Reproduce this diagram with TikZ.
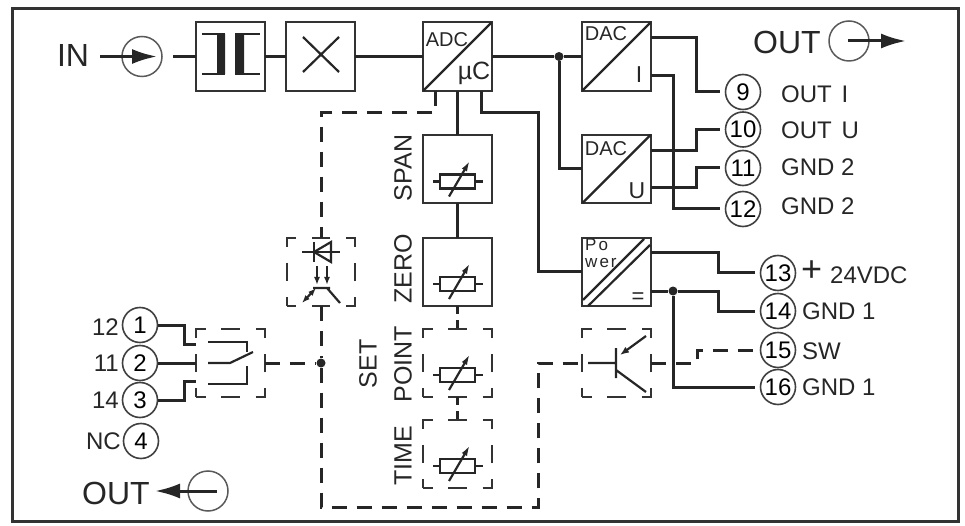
\documentclass[tikz,border=0pt]{standalone}
\usepackage{tikz}
\usepackage{fontspec}
\setmainfont{Liberation Sans}
\newfontfamily\widefont[LetterSpace=12]{Liberation Sans}
\usetikzlibrary{arrows.meta}
\usetikzlibrary{calc}

\newcommand{\fsize}[1]{\fontsize{#1}{#1}\selectfont}
\newcommand{\varres}[2]{
        \draw [symbol_style, shift={(#1,#2)}] (-25,0) -- (-18,0) (-18,-7) rectangle (17,7) (17,0) -- (25,0);
        \draw [symbol_style, shift={(#1,#2)}, -{Latex[length=11pt,width=6pt]}] (-9,15) -- (12,-21);
}

\begin{document}
\begin{tikzpicture}[x=1pt, y=-1pt, auto,
        box_style/.style={rectangle,draw=black!80,line width=2.2pt,minimum width=68.5pt,minimum height=68.5pt,inner sep=0pt,outer sep=0pt},
        dash_box_style/.style={box_style,dash pattern=on 18.5pt off 15.75pt,dash phase=9.25pt},
        pin_style/.style={circle,draw=black!75,line width=1.6pt,minimum size=35pt,inner sep=0pt,font=\fsize{24}},
        dot_style/.style={circle,fill=black!85,minimum size=9pt,inner sep=0pt},
        ring_style/.style={circle,draw=black!65,line width=1.5pt,minimum size=40pt,inner sep=0pt},
        text_style/.style={inner sep=0pt,anchor=west,text=black!85,font=\fsize{24}},
        big_text_style/.style={inner sep=0pt,text=black!85,font=\fsize{32}},
        side_text_style/.style={inner sep=0pt,rotate=90,text=black!85,font=\fsize{25}},
        box_text_style/.style={inner sep=0pt,text=black!85,font=\fsize{20}},
        wire_style/.style={draw=black!85,line width=3pt},
        pin_wire_style/.style={wire_style,shorten >=5pt},
        dash_wire_style/.style={wire_style,dash pattern=on 15pt off 10pt},
        dash_pin_wire_style/.style={dash_wire_style,shorten >=7pt},
        short_dash_style/.style={wire_style,line width=2.2pt,dash pattern=on 8pt off 6pt},
        symbol_style/.style={draw=black!85,line width=2.2pt},
        head_style/.style={-{Latex[length=25pt,width=15pt]}}]

        \useasboundingbox (0,0) rectangle (965,526);
        \draw [draw=black!80, line width=3pt] (12,9) rectangle (958,521);

        % top row
        \node [big_text_style](in_text) at (73,55) {IN};

        \node [ring_style](in_ring) at (142,56.5) {};

        \coordinate (in_tail) at (100,56.5);

        \coordinate (in_tip) at (157,56.5);

        \coordinate (in_out) at (173,56.5);

        \node [box_style](coupler) at (230.5,56.5) {};

        \node [box_style](mult) at (320.5,56.5) {};

        \node [box_style](adc) at (457.5,56.5) {};

        \node [box_style](dac_i) at (616.5,56.5) {};

        \node [box_style](dac_u) at (616.5,169) {};

        \node [box_style](power) at (616.5,272) {};

        % column of adjusters
        \node [box_style](span) at (457.5,169) {};

        \node [box_style](zero) at (457.5,272) {};

        \node [dash_box_style](point) at (457.5,363) {};

        \node [dash_box_style](time) at (457.5,454) {};

        \node [dash_box_style](opto) at (321,272) {};

        \node [dash_box_style](switch) at (230.5,363) {};

        \node [dash_box_style](trans) at (616.5,363) {};

        % box texts
        \node [box_text_style](adc_text) at (447,40) {ADC};

        \node [box_text_style, font=\fsize{25}](uc_text) at (474,73) {µC};

        \node [box_text_style](dac_i_text) at (606,34) {DAC};

        \node [box_text_style](dac_u_text) at (606,149) {DAC};

        \node [box_text_style, font=\fsize{23}](i_text) at (639,75) {I};

        \node [box_text_style, font=\fsize{23}](u_text) at (637,191) {U};

        \node [box_text_style, anchor=north west, align=left, font=\widefont\fsize{17}](power_text) at (585,239) {Po\\wer};

        \node [box_text_style, font=\fsize{22}](equal_text) at (638,298) {=};

        \node [side_text_style](span_text) at (403,168) {SPAN};

        \node [side_text_style](zero_text) at (403,269) {ZERO};

        \node [side_text_style](point_text) at (403,364) {POINT};

        \node [side_text_style](set_text) at (368,364) {SET};

        \node [side_text_style](time_text) at (403,456) {TIME};

        % right pins
        \node [pin_style](pin9) at (743,92) {9};

        \node [pin_style](pin10) at (743,129.5) {10};

        \node [pin_style](pin11) at (743,168) {11};

        \node [pin_style](pin12) at (743,209) {12};

        \node [pin_style](pin13) at (778,273) {13};

        \node [pin_style](pin14) at (778,311) {14};

        \node [pin_style](pin15) at (778,350) {15};

        \node [pin_style](pin16) at (778,387) {16};

        \node [text_style](out_i) at (781,94) {OUT\hspace{3pt} I};

        \node [text_style](out_u) at (781,130) {OUT\hspace{3pt} U};

        \node [text_style](gnd_a) at (781,167) {GND 2};

        \node [text_style](gnd_b) at (781,206) {GND 2};

        \node [text_style, font=\fsize{36}](plus_text) at (801,271) {+};

        \node [text_style, font=\fsize{24}](vdc_text) at (830,275) {24VDC};

        \node [text_style](gnd_c) at (802,311) {GND 1};

        \node [text_style](sw_text) at (802,351) {SW};

        \node [text_style](gnd_d) at (802,387) {GND 1};

        % left pins
        \node [pin_style](pin1) at (140,325) {1};

        \node [pin_style](pin2) at (140,363) {2};

        \node [pin_style](pin3) at (140,400) {3};

        \node [pin_style](pin4) at (141,441) {4};

        \node [text_style, anchor=east](label_a) at (119,327) {12};

        \node [text_style, anchor=east](label_b) at (119,363) {11};

        \node [text_style, anchor=east](label_c) at (119,400) {14};

        \node [text_style, anchor=east](label_d) at (121,441) {NC};

        % out signs
        \node [big_text_style](out_top) at (787,42) {OUT};

        \node [ring_style](out_top_ring) at (849,41) {};

        \coordinate (out_top_tail) at (848,41);

        \coordinate (out_top_tip) at (906,41);

        \node [big_text_style](out_low) at (116,493) {OUT};

        \node [ring_style](out_low_ring) at (208,491) {};

        \coordinate (out_low_tail) at (217,491);

        \coordinate (out_low_tip) at (155,491);

        % junctions
        \node [dot_style](dot_adc) at (559,56.5) {};

        \node [dot_style](dot_gnd) at (673,291) {};

        \node [dot_style](dot_sw) at (321,363) {};

        % solid wires
        \draw [wire_style, head_style] (in_tail) -- (in_tip);

        \draw [wire_style, head_style] (out_top_tail) -- (out_top_tip);

        \draw [wire_style, head_style] (out_low_tail) -- (out_low_tip);

        \draw [wire_style] (in_out) edge (coupler);

        \draw [wire_style] (coupler) edge (mult);

        \draw [wire_style] (mult) edge (adc);

        \draw [wire_style] (adc) edge (dot_adc);

        \draw [wire_style] (dot_adc) edge (dac_i);

        \draw [wire_style] (dot_adc) |- (dac_u);

        \draw [wire_style] (adc) edge (span);

        \draw [wire_style] (span) edge (zero);

        \draw [wire_style] (adc.south -| 481,0) -- (481,113) -- (538,113) |- (power);

        \draw [pin_wire_style] (dac_i.east |- 0,38) -- (696,38) |- (pin9);

        \draw [pin_wire_style] (dac_i.east |- 0,76) -- (673,76) |- (pin12);

        \draw [pin_wire_style] (dac_u.east |- 0,151) -- (696,151) |- (pin10);

        \draw [pin_wire_style] (dac_u.east |- 0,188) -- (696,188) |- (pin11);

        \draw [pin_wire_style] (power.east |- 0,253) -- (718,253) |- (pin13);

        \draw [wire_style] (power.east |- dot_gnd) -- (dot_gnd);

        \draw [pin_wire_style] (dot_gnd) -- (718,291) |- (pin14);

        \draw [pin_wire_style] (dot_gnd) |- (pin16);

        \draw [wire_style] (pin1) -- (184,325) |- (switch.west |- 0,344);

        \draw [wire_style] (pin2) edge (switch);

        \draw [wire_style] (pin3) -- (184,400) |- (switch.west |- 0,381);

        % dashed wires
        \draw [dash_wire_style] (adc.south -| 435,0) -- (435,113) -- (321,113) -- (opto.north);

        \draw [dash_wire_style] (opto) edge (dot_sw);

        \draw [dash_wire_style] (switch) edge (dot_sw);

        \draw [dash_wire_style] (dot_sw) -- (321,507) -- (538,507) -- (538,363) -- (trans);

        \draw [dash_pin_wire_style] (trans) -- (697,363) |- (pin15);

        \draw [short_dash_style] (zero) edge (point);

        \draw [short_dash_style] (point) edge (time);

        % symbols inside the boxes
        \draw [symbol_style] (202,34) -- (225,34) (202,74) -- (225,74) (235,34) -- (260,34) (235,74) -- (260,74);

        \fill [black!85] (217,34) rectangle (225,74) (235,34) rectangle (244,74);

        \draw [symbol_style] (303,37) -- (339,72) (303,72) -- (339,37);

        \draw [symbol_style] (adc.south west) -- (adc.north east);

        \draw [symbol_style] (dac_i.south west) -- (dac_i.north east);

        \draw [symbol_style] (dac_u.south west) -- (dac_u.north east);

        \draw [symbol_style] (583,300) -- (644,239) (588,306) -- (650,245);

        \varres{458}{181.5}

        \varres{458}{284}

        \varres{458}{375}

        \varres{458}{466}

        % optocoupler
        \draw [symbol_style] (302,252) -- (340,252) (314,242) -- (314,262);

        \draw [symbol_style] (314,252) -- (331,242) -- (331,262) -- cycle;

        \draw [symbol_style, -{Latex[length=8pt,width=6pt]}] (317,266) -- (317,285);

        \draw [symbol_style, -{Latex[length=8pt,width=6pt]}] (327,266) -- (327,285);

        \draw [symbol_style] (313,288) -- (330,288) (327,288) -- (340,303);

        \draw [symbol_style, {Latex[length=8pt,width=6pt]}-{Latex[length=8pt,width=6pt]}] (316,288) -- (302,303);

        % contact
        \draw [symbol_style] (208,342) -- (247,342) -- (247,352) (208,384) -- (247,384) -- (247,366);

        \draw [symbol_style] (208,363) -- (230,363) -- (253,352);

        % transistor
        \draw [symbol_style] (616,348) -- (616,378) (588,363) -- (616,363) (616,370) -- (646,392);

        \draw [symbol_style, -{Latex[length=9pt,width=7pt]}] (646,336) -- (620,355);

\end{tikzpicture}
\end{document}
